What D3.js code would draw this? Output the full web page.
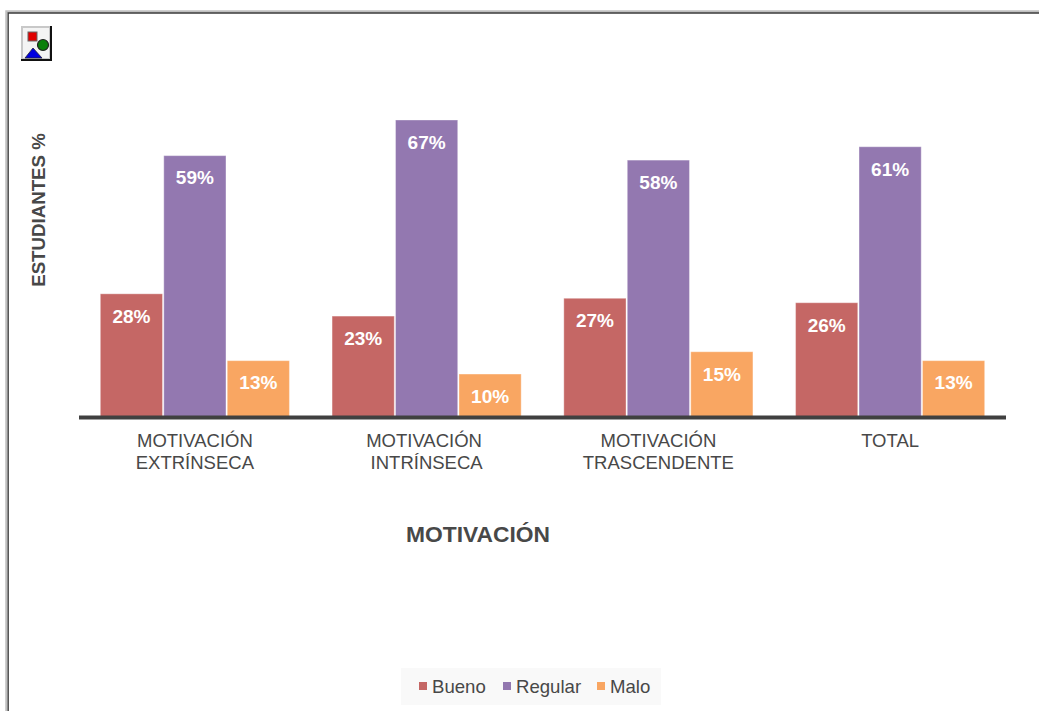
<!DOCTYPE html>
<html>
<head>
<meta charset="utf-8">
<script src="https://cdnjs.cloudflare.com/ajax/libs/d3/7.8.5/d3.min.js"></script>
<style>
  html, body { margin: 0; padding: 0; background: #fff; overflow: hidden; }
  text { font-family: "Liberation Sans", Arial, sans-serif; }
</style>
</head>
<body>
<div id="chart"></div>
<script>
var categories = [["MOTIVACIÓN", "EXTRÍNSECA"], ["MOTIVACIÓN\u00a0", "INTRÍNSECA"], ["MOTIVACIÓN", "TRASCENDENTE"], ["TOTAL"]];
var seriesNames = ["Bueno", "Regular", "Malo"];
var bueno = [28, 23, 27, 26];
var regular = [59, 67, 58, 61];
var malo = [13, 10, 15, 13];
var seriesValues = [bueno, regular, malo];
var colors = ["#c56765", "#9378b0", "#f9a662"];
var textColor = "#484848";

var width = 1039, height = 711;
var svg = d3.select("#chart").append("svg")
  .attr("width", width)
  .attr("height", height)
  .style("display", "block");

// outer window frame
svg.append("path").attr("d", "M6.5,711V11.5H1039").attr("fill", "none").attr("stroke", "#c0c0c0").attr("stroke-width", 2.5);
svg.append("path").attr("d", "M8.2,711V13H1039").attr("fill", "none").attr("stroke", "#3a3a3a").attr("stroke-width", 1.3);

// broken image placeholder
var icon = svg.append("g").attr("transform", "translate(21,26)");
icon.append("rect").attr("width", 31).attr("height", 35).attr("fill", "#111");
icon.append("rect").attr("width", 29).attr("height", 33).attr("fill", "#c8c8c8");
icon.append("rect").attr("x", 2).attr("y", 2).attr("width", 26).attr("height", 30).attr("fill", "#f4f4f4");
icon.append("rect").attr("x", 7).attr("y", 6).attr("width", 9).attr("height", 9).attr("fill", "#e00000").attr("stroke", "#666").attr("stroke-width", 1);
icon.append("circle").attr("cx", 22).attr("cy", 19).attr("r", 5.5).attr("fill", "#0a800a").attr("stroke", "#222").attr("stroke-width", 1.2);
icon.append("path").attr("d", "M4,32L12,22L21,32Z").attr("fill", "#0000e0").attr("stroke", "#223").attr("stroke-width", 0.8);

var x0 = d3.scaleBand()
  .domain(d3.range(categories.length))
  .range([79, 1006])
  .paddingInner(0.184)
  .paddingOuter(0.092);

var x1 = d3.scaleBand()
  .domain(d3.range(seriesNames.length))
  .range([0, x0.bandwidth()])
  .paddingInner(0.02);

var y = d3.scaleLinear()
  .domain([0, 67])
  .range([418.6, 120]);

// bars and labels
seriesNames.forEach(function(name, s) {
  var g = svg.append("g");
  g.selectAll("rect")
    .data(seriesValues[s])
    .enter().append("rect")
    .attr("x", function(d, i) { return x0(i) + x1(s); })
    .attr("y", function(d) { return y(d); })
    .attr("width", x1.bandwidth())
    .attr("height", function(d) { return y(0) - y(d); })
    .attr("fill", colors[s])
    .attr("stroke", "#fff")
    .attr("stroke-opacity", 0.35);
  g.selectAll("text")
    .data(seriesValues[s])
    .enter().append("text")
    .attr("x", function(d, i) { return x0(i) + x1(s) + x1.bandwidth() / 2; })
    .attr("y", function(d) { return y(d) + 28.8; })
    .attr("text-anchor", "middle")
    .attr("font-size", "19px")
    .attr("font-weight", "bold")
    .attr("fill", "#fff")
    .text(function(d) { return d + "%"; });
});

// baseline
svg.append("line")
  .attr("x1", 79).attr("x2", 1006)
  .attr("y1", 417.5).attr("y2", 417.5)
  .attr("stroke", "#404040")
  .attr("stroke-width", 4);

// category labels
categories.forEach(function(lines, i) {
  var t = svg.append("text")
    .attr("text-anchor", "middle")
    .attr("font-size", "18.5px")
    .attr("fill", textColor);
  lines.forEach(function(line, k) {
    t.append("tspan")
      .attr("x", x0(i) + x0.bandwidth() / 2)
      .attr("y", 447 + k * 21.5)
      .text(line);
  });
});

// axis titles
svg.append("text")
  .attr("x", 478).attr("y", 542)
  .attr("text-anchor", "middle")
  .attr("font-size", "22.8px")
  .attr("font-weight", "bold")
  .attr("fill", textColor)
  .text("MOTIVACIÓN");

svg.append("text")
  .attr("transform", "translate(45,210) rotate(-90)")
  .attr("text-anchor", "middle")
  .attr("font-size", "18.7px")
  .attr("font-weight", "bold")
  .attr("fill", textColor)
  .text("ESTUDIANTES %");

// legend
svg.append("rect")
  .attr("x", 401).attr("y", 668)
  .attr("width", 260).attr("height", 37)
  .attr("fill", "#f9f9f9");

var legendX = [419, 503, 597];
var legend = svg.append("g").selectAll("g")
  .data(seriesNames)
  .enter().append("g")
  .attr("transform", function(d, i) { return "translate(" + legendX[i] + ",682)"; });
legend.append("rect")
  .attr("width", 8).attr("height", 8)
  .attr("fill", function(d, i) { return colors[i]; });
legend.append("text")
  .attr("x", 13).attr("y", 11)
  .attr("font-size", "18.6px")
  .attr("fill", textColor)
  .text(function(d) { return d; });
</script>
</body>
</html>
